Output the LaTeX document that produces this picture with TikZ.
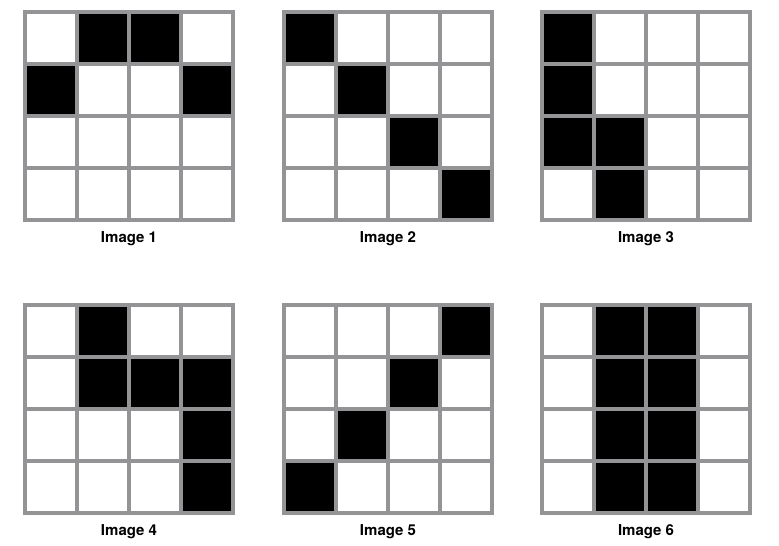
\documentclass[tikz,border=0pt]{standalone}
\usepackage{fontspec}
\setmainfont{TeX Gyre Heros}
\definecolor{gridgray}{RGB}{148,148,150}
\tikzset{
  gridline/.style={draw=gridgray, line width=3.2pt},
  cellfill/.style={fill=black},
  imglabel/.style={font=\bfseries\fontsize{15}{17}\selectfont, anchor=base, inner sep=0pt}
}
\begin{document}
\begin{tikzpicture}[x=1pt,y=-1pt]
\useasboundingbox (0,0) rectangle (779,546);
% \pixgrid{left}{top}{list of row/col}{label}{name}
\newcommand{\pixgrid}[5]{%
  \foreach \r/\c in {#3} {
    \fill[cellfill] ({#1+52*\c},{#2+52*\r}) rectangle ++(52,52);
  }
  \foreach \k in {0,...,4} {
    \draw[gridline] ({#1+52*\k},{#2-1.6}) -- ++(0,211.2);
    \draw[gridline] ({#1-1.6},{#2+52*\k}) -- ++(211.2,0);
  }
  \node[imglabel] (#5) at ({#1+104},{#2+230}) {#4};
}
\pixgrid{25}{12}{0/1,0/2,1/0,1/3}{Image 1}{lab1}
\pixgrid{284}{12}{0/0,1/1,2/2,3/3}{Image 2}{lab2}
\pixgrid{542}{12}{0/0,1/0,2/0,2/1,3/1}{Image 3}{lab3}
\pixgrid{25}{305}{0/1,1/1,1/2,1/3,2/3,3/3}{Image 4}{lab4}
\pixgrid{284}{305}{0/3,1/2,2/1,3/0}{Image 5}{lab5}
\pixgrid{542}{305}{0/1,0/2,1/1,1/2,2/1,2/2,3/1,3/2}{Image 6}{lab6}
\end{tikzpicture}
\end{document}
